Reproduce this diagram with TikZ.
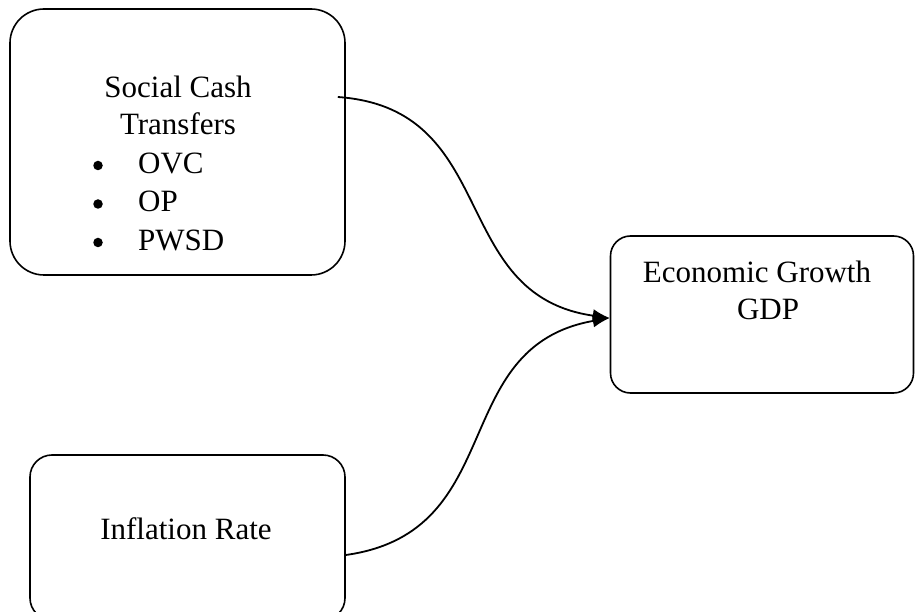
\documentclass[tikz,border=0pt]{standalone}
\usepackage{fontspec}
\setmainfont{Liberation Serif}
\usetikzlibrary{arrows.meta}
\tikzset{box/.style={draw,line width=1.6pt,inner sep=0pt},
         txt/.style={inner sep=0pt,anchor=base,font=\fontsize{31}{38}\selectfont},
         dot/.style={circle,fill,inner sep=0pt,minimum size=9.5pt},
         link/.style={line width=1.8pt,looseness=1.2,-{Latex[length=17pt,width=13pt]}},
        }

\begin{document}
\begin{tikzpicture}[x=1pt,y=1pt]
        \useasboundingbox (0,0) rectangle (915,611);

        \node[box,rounded corners=34pt,minimum width=335pt,minimum height=266pt](sct)at(177.5,469){};
        \node[box,rounded corners=20pt,minimum width=303pt,minimum height=157pt](egg)at(762,296.5){};
        \node[box,rounded corners=22pt,minimum width=315pt,minimum height=165pt](inf)at(187.5,73.5){};

        \node[txt](sct1)at(178,513){Social Cash};
        \node[txt](sct2)at(178,476){Transfers};
        \foreach \t [count=\i] in {OVC,OP,PWSD}{
            \node[dot](dot\i)at(98,484-38.5*\i){};
            \node[txt,anchor=base west](item\i)at(138,476-38.5*\i){\t};
        }

        \node[txt](egg1)at(757,328){Economic Growth};
        \node[txt](egg2)at(768,291){GDP};
        \node[txt](inf1)at(186,72){Inflation Rate};

        \draw[link]([xshift=-8pt,yshift=45pt]sct.east)to[out=-4,in=172]([yshift=-3.5pt]egg.west);
        \draw[link]([yshift=-17.5pt]inf.east)to[out=8,in=190]([yshift=-3.5pt]egg.west);
    \end{tikzpicture}
\end{document}
